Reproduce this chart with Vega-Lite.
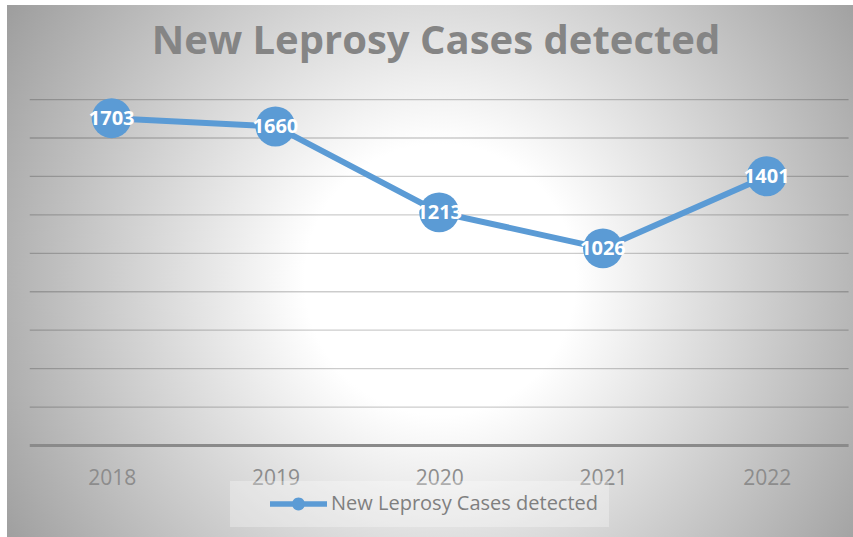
{
  "$schema": "https://vega.github.io/schema/vega-lite/v6.json",
  "autosize": {"type": "none"},
  "width": 846,
  "height": 532,
  "padding": {"left": 7, "top": 5, "right": 0, "bottom": 0},
  "background": "#ffffff",
  "config": {
    "font": "Open Sans",
    "view": {
      "stroke": null,
      "fill": {
        "gradient": "radial",
        "x1": 0.512, "y1": 0.51, "r1": 0.16,
        "x2": 0.512, "y2": 0.51, "r2": 0.62,
        "stops": [
          {"offset": 0, "color": "#ffffff"},
          {"offset": 1, "color": "#9a9a9a"}
        ]
      }
    },
    "legend": {
      "orient": "none",
      "legendX": 223,
      "legendY": 476,
      "title": null,
      "padding": 10,
      "clipHeight": 26,
      "fillColor": "rgba(255,255,255,0.3)",
      "labelFont": "Open Sans",
      "labelFontSize": 20,
      "labelColor": "#7f7f7f",
      "labelOffset": 4,
      "symbolOffset": 30,
      "labelLimit": 400
    }
  },
  "title": {
    "text": "New Leprosy Cases detected",
    "font": "Open Sans",
    "fontSize": 40,
    "fontWeight": "bold",
    "color": "#858585",
    "anchor": "middle",
    "frame": "group",
    "baseline": "alphabetic",
    "offset": -89,
    "dx": 6
  },
  "datasets": {
    "cases": [
      {"year": 2018, "cases": 1703, "series": "New Leprosy Cases detected"},
      {"year": 2019, "cases": 1660, "series": "New Leprosy Cases detected"},
      {"year": 2020, "cases": 1213, "series": "New Leprosy Cases detected"},
      {"year": 2021, "cases": 1026, "series": "New Leprosy Cases detected"},
      {"year": 2022, "cases": 1401, "series": "New Leprosy Cases detected"}
    ],
    "grid": [
      {"v": 200}, {"v": 400}, {"v": 600}, {"v": 800}, {"v": 1000},
      {"v": 1200}, {"v": 1400}, {"v": 1600}, {"v": 1800}
    ],
    "base": [{"v": 0}]
  },
  "layer": [
    {
      "data": {"name": "grid"},
      "mark": {"type": "rule", "color": "#000000", "opacity": 0.2, "strokeWidth": 1.3},
      "encoding": {
        "y": {"field": "v", "type": "quantitative", "scale": {"domain": [-476, 2292], "nice": false, "zero": false}, "axis": null},
        "x": {"datum": 2017.5, "type": "quantitative", "scale": {"domain": [2017.361, 2022.527], "nice": false, "zero": false},
              "axis": {"values": [2018, 2019, 2020, 2021, 2022], "format": "d", "grid": false, "domain": false, "ticks": false, "tickSize": 0, "labelPadding": 0, "offset": -53, "labelBaseline": "alphabetic", "labelFontSize": 21, "labelColor": "#8c8c8c", "labelFont": "Open Sans", "title": null, "labelFlush": false, "labelOverlap": false}},
        "x2": {"datum": 2022.5}
      }
    },
    {
      "data": {"name": "base"},
      "mark": {"type": "rule", "color": "#8a8a8a", "strokeWidth": 3},
      "encoding": {
        "y": {"field": "v", "type": "quantitative", "scale": {"domain": [-476, 2292], "nice": false, "zero": false}, "axis": null},
        "x": {"datum": 2017.5, "type": "quantitative", "scale": {"domain": [2017.361, 2022.527], "nice": false, "zero": false},
              "axis": {"values": [2018, 2019, 2020, 2021, 2022], "format": "d", "grid": false, "domain": false, "ticks": false, "tickSize": 0, "labelPadding": 0, "offset": -53, "labelBaseline": "alphabetic", "labelFontSize": 21, "labelColor": "#8c8c8c", "labelFont": "Open Sans", "title": null, "labelFlush": false, "labelOverlap": false}},
        "x2": {"datum": 2022.5}
      }
    },
    {
      "data": {"name": "cases"},
      "mark": {"type": "line", "strokeWidth": 6},
      "encoding": {
        "y": {"field": "cases", "type": "quantitative", "scale": {"domain": [-476, 2292], "nice": false, "zero": false}, "axis": null},
        "x": {"field": "year", "type": "quantitative", "scale": {"domain": [2017.361, 2022.527], "nice": false, "zero": false},
              "axis": {"values": [2018, 2019, 2020, 2021, 2022], "format": "d", "grid": false, "domain": false, "ticks": false, "tickSize": 0, "labelPadding": 0, "offset": -53, "labelBaseline": "alphabetic", "labelFontSize": 21, "labelColor": "#8c8c8c", "labelFont": "Open Sans", "title": null, "labelFlush": false, "labelOverlap": false}},
        "color": {"field": "series", "type": "nominal", "scale": {"range": ["#5b9bd5"]},
          "legend": {
            "symbolType": "M-1,-0.1L1,-0.1L1,0.1L-1,0.1ZM0.23,0A0.23,0.23,0,1,1,-0.23,0A0.23,0.23,0,1,1,0.23,0Z",
            "symbolSize": 3249,
            "encode": {"symbols": {"update": {"fill": {"value": "#5b9bd5"}, "stroke": {"value": "#5b9bd5"}, "strokeWidth": {"value": 0}, "opacity": {"value": 1}}}}
          }
        }
      }
    },
    {
      "data": {"name": "cases"},
      "mark": {"type": "circle", "size": 1590, "opacity": 1},
      "encoding": {
        "y": {"field": "cases", "type": "quantitative", "scale": {"domain": [-476, 2292], "nice": false, "zero": false}, "axis": null},
        "x": {"field": "year", "type": "quantitative", "scale": {"domain": [2017.361, 2022.527], "nice": false, "zero": false},
              "axis": {"values": [2018, 2019, 2020, 2021, 2022], "format": "d", "grid": false, "domain": false, "ticks": false, "tickSize": 0, "labelPadding": 0, "offset": -53, "labelBaseline": "alphabetic", "labelFontSize": 21, "labelColor": "#8c8c8c", "labelFont": "Open Sans", "title": null, "labelFlush": false, "labelOverlap": false}},
        "color": {"field": "series", "type": "nominal", "scale": {"range": ["#5b9bd5"]},
          "legend": {
            "symbolType": "M-1,-0.1L1,-0.1L1,0.1L-1,0.1ZM0.23,0A0.23,0.23,0,1,1,-0.23,0A0.23,0.23,0,1,1,0.23,0Z",
            "symbolSize": 3249,
            "encode": {"symbols": {"update": {"fill": {"value": "#5b9bd5"}, "stroke": {"value": "#5b9bd5"}, "strokeWidth": {"value": 0}, "opacity": {"value": 1}}}}
          }
        }
      }
    },
    {
      "data": {"name": "cases"},
      "mark": {"type": "text", "font": "Open Sans", "fontSize": 20, "fontWeight": "bold", "color": "#ffffff", "align": "center", "baseline": "middle", "dy": 1},
      "encoding": {
        "y": {"field": "cases", "type": "quantitative", "scale": {"domain": [-476, 2292], "nice": false, "zero": false}, "axis": null},
        "x": {"field": "year", "type": "quantitative", "scale": {"domain": [2017.361, 2022.527], "nice": false, "zero": false},
              "axis": {"values": [2018, 2019, 2020, 2021, 2022], "format": "d", "grid": false, "domain": false, "ticks": false, "tickSize": 0, "labelPadding": 0, "offset": -53, "labelBaseline": "alphabetic", "labelFontSize": 21, "labelColor": "#8c8c8c", "labelFont": "Open Sans", "title": null, "labelFlush": false, "labelOverlap": false}},
        "text": {"field": "cases", "type": "quantitative", "format": "d"}
      }
    }
  ]
}
